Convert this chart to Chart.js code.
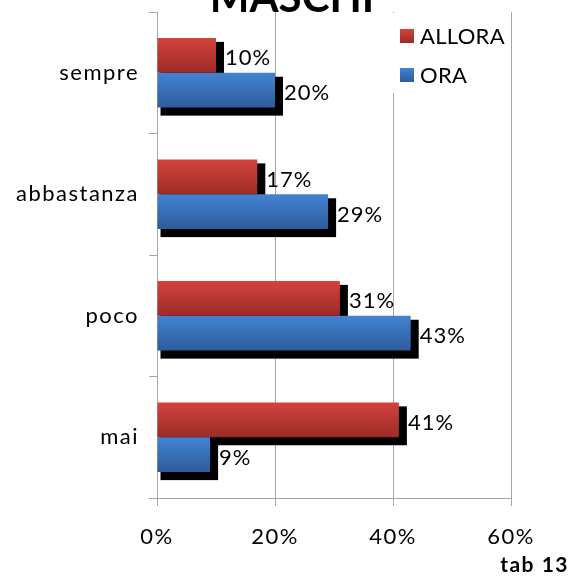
<!DOCTYPE html>
<html>
<head>
<meta charset="utf-8">
<script src="https://cdn.jsdelivr.net/npm/chart.js@4/dist/chart.umd.min.js"></script>
<style>
  html, body { margin: 0; padding: 0; background: #fff; }
  #wrap { position: relative; width: 572px; height: 576px; }
</style>
</head>
<body>
<div id="wrap"><canvas id="chart" width="572" height="576"></canvas></div>
<script>
// ====== Data ======
const categories = ["sempre", "abbastanza", "poco", "mai"];
const allora = [10, 17, 31, 41];
const ora = [20, 29, 43, 9];
const xTicks = [0, 20, 40, 60];
const seriesNames = ["ALLORA", "ORA"];

const FONT = "Lato, 'Liberation Sans', sans-serif";
const CAT_PCT = 0.574;
const GRID = "#a6a6a6";

const RED = ["#d4433d", "#9c2b27"];
const BLUE = ["#4383d3", "#2d5c9b"];

// gradient fill for a bar, computed from the category scale
function barFill(colors) {
  return function (ctx) {
    const chart = ctx.chart;
    const ys = chart.scales && chart.scales.y;
    if (!ys || ctx.dataIndex === undefined || !ys.height) return colors[0];
    const c = ys.getPixelForValue(ctx.dataIndex);
    const h = ys.height / categories.length * CAT_PCT / 2;
    const y0 = ctx.datasetIndex === 0 ? c - h : c;
    const g = chart.ctx.createLinearGradient(0, y0, 0, y0 + h);
    g.addColorStop(0, colors[0]);
    g.addColorStop(1, colors[1]);
    return g;
  };
}

// ====== Shadow, labels, legend, titles ======
const decorations = {
  id: "decorations",
  beforeDraw(chart) {
    chart.ctx.letterSpacing = "1.5px";
  },
  beforeDatasetsDraw(chart) {
    const ctx = chart.ctx;
    ctx.letterSpacing = "0px";
    ctx.save();
    ctx.fillStyle = "#000";
    chart.data.datasets.forEach((ds, i) => {
      chart.getDatasetMeta(i).data.forEach(el => {
        const top = el.y - el.height / 2;
        ctx.fillRect(el.base + 3, top + 4, el.x + 8 - (el.base + 3), el.height + 4);
      });
    });
    ctx.restore();
  },
  afterDatasetsDraw(chart) {
    const ctx = chart.ctx;
    ctx.save();
    ctx.font = "22px " + FONT;
    ctx.letterSpacing = "1px";
    ctx.fillStyle = "#000";
    ctx.textBaseline = "middle";
    ctx.textAlign = "left";
    chart.data.datasets.forEach((ds, i) => {
      chart.getDatasetMeta(i).data.forEach((el, j) => {
        ctx.fillText(ds.data[j] + "%", el.x + 9, el.y + 3);
      });
    });

    // legend box
    ctx.letterSpacing = "0.3px";
    ctx.fillStyle = "#fff";
    ctx.fillRect(388, 13, 120, 80);
    [RED, BLUE].forEach((cols, i) => {
      const y = 29 + i * 39;
      const g = ctx.createLinearGradient(0, y, 0, y + 14);
      g.addColorStop(0, cols[0]);
      g.addColorStop(1, cols[1]);
      ctx.fillStyle = g;
      ctx.fillRect(400, y, 14, 14);
      ctx.fillStyle = "#000";
      ctx.fillText(seriesNames[i], 420, y + 8);
    });

    // title, cut at the top edge
    ctx.letterSpacing = "0px";
    ctx.font = "bold 42px " + FONT;
    ctx.textAlign = "center";
    ctx.textBaseline = "alphabetic";
    ctx.fillText("MASCHI", 292, 12);

    ctx.letterSpacing = "1.5px";
    ctx.font = "bold 21px " + FONT;
    ctx.textAlign = "right";
    ctx.textBaseline = "middle";
    ctx.fillText("tab 13", 569, 565);
    ctx.restore();
  }
};

new Chart(document.getElementById("chart").getContext("2d"), {
  type: "bar",
  data: {
    labels: categories,
    datasets: [
      { label: seriesNames[0], data: allora, backgroundColor: barFill(RED) },
      { label: seriesNames[1], data: ora, backgroundColor: barFill(BLUE) }
    ]
  },
  options: {
    indexAxis: "y",
    responsive: false,
    animation: false,
    categoryPercentage: CAT_PCT,
    barPercentage: 1,
    layout: { padding: { top: 12, right: 61, left: 0, bottom: 0 } },
    plugins: { legend: { display: false }, tooltip: { enabled: false } },
    scales: {
      x: {
        min: 0,
        max: 60,
        afterBuildTicks: s => { s.ticks = xTicks.map(v => ({ value: v })); },
        afterFit: s => { s.height = 78; },
        grid: { color: GRID, tickLength: 8 },
        border: { color: GRID },
        ticks: {
          color: "#000",
          font: { family: FONT, size: 22 },
          padding: 18,
          callback: v => v + "%"
        }
      },
      y: {
        afterFit: s => { s.width = 157; s.paddingTop = 0; s.paddingBottom = 0; },
        grid: { drawOnChartArea: false, color: GRID, tickLength: 8 },
        border: { color: GRID },
        ticks: {
          color: "#000",
          font: { family: FONT, size: 22 },
          padding: 10
        }
      }
    }
  },
  plugins: [decorations]
});
</script>
</body>
</html>
